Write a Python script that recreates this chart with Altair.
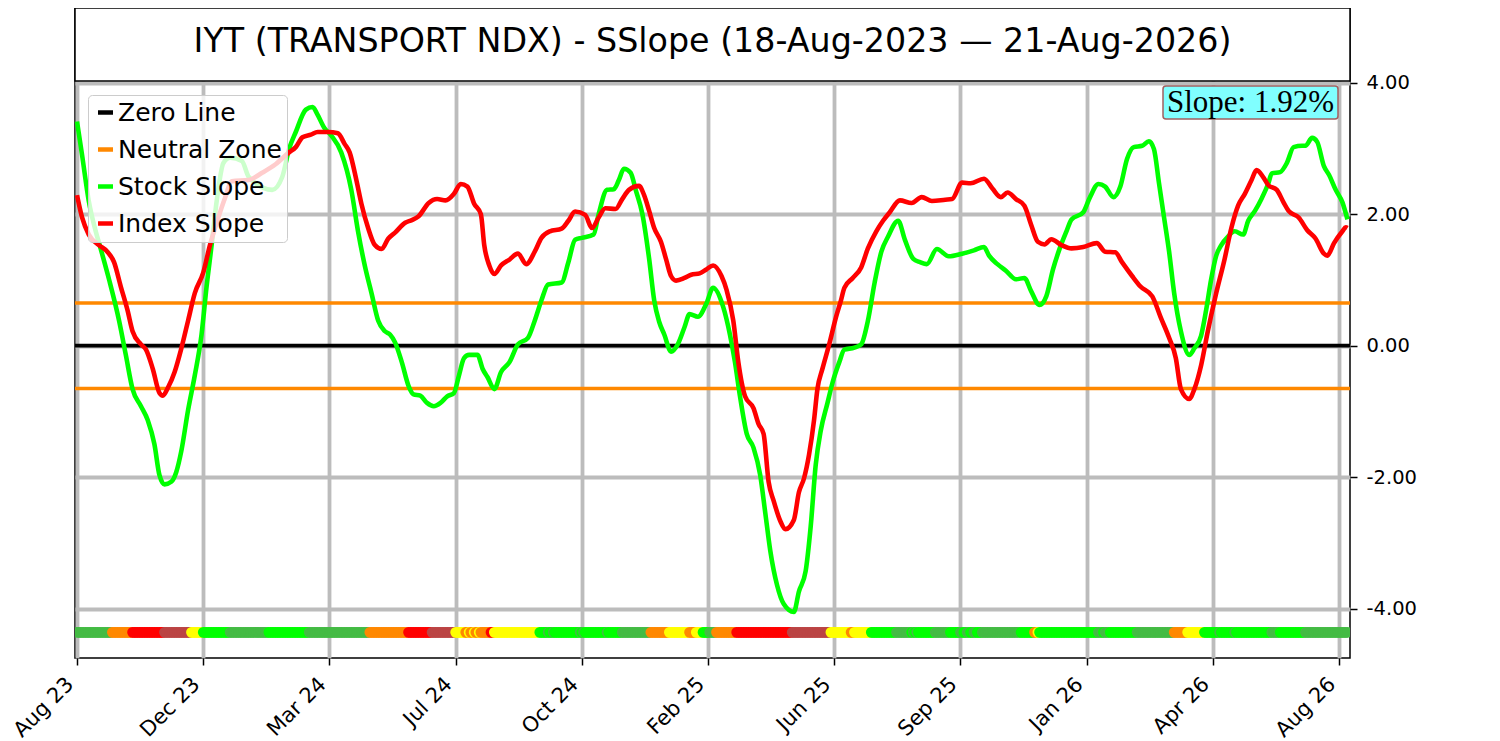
import altair as alt
import pandas as pd

TITLE = "IYT (TRANSPORT NDX) - SSlope (18-Aug-2023 — 21-Aug-2026)"
tick_idx = [0, 75, 150, 225, 300, 375, 450, 525, 600, 675, 750]
tick_labels = ["Aug 23", "Dec 23", "Mar 24", "Jul 24", "Oct 24", "Feb 25",
               "Jun 25", "Sep 25", "Jan 26", "Apr 26", "Aug 26"]
y_ticks = [-4, -2, 0, 2, 4]
neutral_levels = [0.65, -0.65]
band_level = -4.36
n_days = 756

stock_idx = [0, 3, 7, 11, 14, 19, 25, 29, 33, 38, 42, 46, 49, 52, 56, 59, 62, 66, 70, 74, 77, 80, 83, 87, 91,
             98, 102, 116, 122, 126, 130, 136, 140, 143, 147, 151, 157, 163, 167, 171, 175, 179, 183, 186, 189,
             193, 197, 200, 204, 208, 212, 216, 220, 224, 227, 230, 233, 238, 241, 244, 248, 252, 257, 262, 268,
             272, 276, 280, 288, 292, 296, 300, 307, 310, 315, 319, 322, 325, 329, 332, 336, 340, 343, 346, 349,
             353, 357, 361, 364, 369, 374, 378, 384, 388, 391, 394, 398, 402, 406, 409, 412, 416, 420, 426, 429,
             433, 436, 439, 442, 446, 449, 453, 456, 462, 466, 470, 474, 478, 482, 488, 492, 497, 501, 505, 511,
             518, 526, 533, 539, 542, 547, 552, 558, 563, 567, 572, 576, 580, 584, 588, 591, 598, 602, 607, 611,
             616, 620, 624, 628, 633, 637, 640, 643, 646, 649, 652, 656, 661, 664, 668, 671, 674, 677, 680, 684,
             688, 693, 696, 700, 704, 708, 710, 715, 719, 723, 728, 730, 734, 737, 741, 744, 748, 752, 755]
stock_val = [3.41, 2.90, 2.20, 1.75, 1.48, 1.01, 0.38, -0.14, -0.66, -0.92, -1.13, -1.50, -1.97, -2.11, -2.07,
             -1.92, -1.60, -0.98, -0.45, 0.17, 0.90, 1.53, 2.20, 2.78, 2.86,
             2.81, 2.57, 2.37, 2.57, 2.99, 3.25, 3.59, 3.63, 3.51, 3.31, 3.20, 2.94, 2.37, 1.74, 1.22, 0.80, 0.38,
             0.22, 0.17, 0.05,
             -0.25, -0.61, -0.74, -0.76, -0.87, -0.92, -0.87, -0.77, -0.72, -0.45, -0.19, -0.14, -0.14, -0.35,
             -0.48, -0.66, -0.40, -0.25, 0.02, 0.12,
             0.38, 0.69, 0.93, 0.96, 1.27, 1.61, 1.64, 1.69, 2.00, 2.37, 2.38, 2.52, 2.69, 2.63, 2.37, 2.00, 1.32,
             0.69, 0.36, 0.17,
             -0.09, 0.02, 0.28, 0.48, 0.44, 0.64, 0.88, 0.59, 0.17, -0.25, -0.77, -1.34, -1.55, -1.97, -2.54,
             -3.12, -3.64, -3.93, -4.05, -3.74,
             -3.43, -2.75, -1.81, -1.29, -0.87, -0.56, -0.25, -0.06, -0.03, 0.02, 0.38, 0.96, 1.43, 1.66, 1.90,
             1.61, 1.32, 1.27, 1.24, 1.47,
             1.36, 1.40, 1.45, 1.50, 1.37, 1.24, 1.14, 1.01, 1.03, 0.83, 0.62, 0.75, 1.16, 1.48, 1.74, 1.92, 2.03,
             2.26, 2.46, 2.42,
             2.26, 2.42, 2.84, 3.02, 3.04, 3.11, 2.99, 2.47, 1.95, 1.43, 0.80, 0.22, -0.14, -0.04, 0.15, 0.54,
             1.01, 1.37, 1.53, 1.66,
             1.74, 1.69, 1.90, 2.05, 2.24, 2.47, 2.62, 2.64, 2.78, 3.02, 3.04, 3.04, 3.16, 3.10, 2.73, 2.60, 2.37,
             2.18, 1.92]

index_idx = [0, 3, 7, 13, 18, 22, 26, 30, 33, 38, 41, 45, 49, 51, 54, 58, 62, 66, 70, 75, 79, 84, 88, 92, 102,
             110, 118, 126, 130, 134, 139, 143, 149, 155, 159, 162, 166, 169, 173, 177, 181, 185, 189, 195, 199,
             203, 209, 214, 219, 224, 228, 232, 236, 240, 242, 245, 248, 252, 257, 262, 267, 272, 276, 281, 288,
             292, 296, 302, 306, 310, 314, 320, 324, 328, 334, 337, 340, 343, 347, 350, 353, 356, 361, 365, 370,
             374, 378, 383, 386, 390, 393, 397, 402, 405, 408, 411, 414, 418, 421, 426, 429, 432, 435, 438, 440,
             443, 447, 451, 454, 456, 461, 466, 470, 475, 479, 483, 489, 496, 502, 508, 516, 520, 526, 531, 539,
             544, 549, 553, 558, 563, 567, 571, 575, 579, 585, 591, 598, 606, 611, 617, 621, 627, 632, 639, 644,
             649, 653, 656, 661, 664, 668, 672, 677, 682, 686, 690, 694, 698, 701, 705, 708, 713, 717, 720, 726,
             731, 736, 741, 743, 747, 752, 754, 755]
index_val = [2.29, 1.95, 1.69, 1.53, 1.43, 1.27, 0.90, 0.54, 0.22, 0.02, -0.06, -0.35, -0.72, -0.76, -0.64,
             -0.40, -0.04, 0.38, 0.80, 1.11, 1.53, 1.95, 2.25, 2.50, 2.52,
             2.63, 2.76, 2.94, 3.02, 3.17, 3.21, 3.25, 3.25, 3.23, 3.07, 2.94, 2.52, 2.16, 1.79, 1.53, 1.47, 1.63,
             1.72, 1.87, 1.91,
             1.97, 2.17, 2.23, 2.21, 2.31, 2.46, 2.42, 2.16, 2.00, 1.53, 1.22, 1.09, 1.22, 1.31, 1.40, 1.24, 1.43,
             1.64, 1.74, 1.78,
             1.90, 2.04, 1.99, 1.79, 1.95, 2.09, 2.08, 2.23, 2.37, 2.43, 2.29, 2.05, 1.79, 1.58, 1.32, 1.06, 0.99,
             1.03, 1.08, 1.10,
             1.16, 1.22, 1.06, 0.85, 0.38, -0.25, -0.77, -0.95, -1.19, -1.34, -2.07, -2.36, -2.67, -2.79, -2.65,
             -2.23, -2.02, -1.66, -1.13, -0.66,
             -0.35, 0.02, 0.43, 0.69, 0.88, 1.03, 1.19, 1.48, 1.74, 1.90, 2.03, 2.21, 2.17, 2.26, 2.20, 2.22, 2.23,
             2.48, 2.47, 2.54,
             2.39, 2.26, 2.33, 2.23, 2.13, 1.84, 1.58, 1.54, 1.62, 1.53, 1.48, 1.50, 1.56, 1.43, 1.42, 1.27, 1.06,
             0.90, 0.75, 0.43,
             0.12, -0.19, -0.66, -0.81, -0.66, -0.30, 0.22, 0.80, 1.32, 1.79, 2.13, 2.31, 2.52, 2.67, 2.56, 2.44,
             2.37, 2.18, 2.05, 1.95,
             1.76, 1.63, 1.40, 1.37, 1.56, 1.74, 1.80, 1.79]

# bottom status band: runs of (start day, colour code)
run_start = [0, 21, 33, 52, 68, 75, 91, 114, 138, 174, 197, 211, 225, 231, 233, 234, 236, 237, 239, 240, 246,
             248, 275, 280, 281, 283, 284, 299, 300, 301, 302, 315, 316, 324, 341, 352, 364, 368, 372, 376, 380,
             392, 425, 448, 460, 462, 472, 487, 496, 497, 498, 499, 500, 510, 519, 525, 527, 529, 531, 533, 535,
             538, 561, 569, 571, 572, 607, 610, 611, 614, 630, 652, 660, 670, 679, 680, 688, 689, 710, 715, 730]
run_code = ["G", "O", "R", "B", "Y", "L", "G", "L", "G", "O", "R", "B", "Y", "O", "Y", "O", "Y", "O", "Y", "O", "R",
            "Y", "L", "G", "L", "G", "L", "G", "L", "G", "L", "G", "L", "G", "O", "Y", "O", "Y", "L", "G", "O",
            "R", "B", "Y", "O", "Y", "L", "G", "L", "G", "L", "G", "L", "G", "L", "G", "L", "G", "L", "G", "L",
            "G", "L", "O", "Y", "L", "G", "L", "G", "L", "G", "O", "Y", "L", "G", "L", "G", "L", "G", "L", "G"]
code_colors = {"G": "#44bb44", "L": "#00ff00", "Y": "#ffff00", "O": "#ff8800", "R": "#ff0000", "B": "#bb4444"}

legend_names = ["Zero Line", "Neutral Zone", "Stock Slope", "Index Slope"]
legend_colors = ["#000000", "#ff8800", "#00ff00", "#ff0000"]

# ---------------------------------------------------------------- build
W, H = 1275, 650
TITLE_H = 73

band_i, band_c = [], []
for k, s in enumerate(run_start):
    e = run_start[k + 1] if k + 1 < len(run_start) else n_days
    for i in range(s, e):
        band_i.append(i)
        band_c.append(code_colors[run_code[k]])
band_df = pd.DataFrame({"i": band_i, "v": [band_level] * len(band_i), "c": band_c})

stock_df = pd.DataFrame({"i": stock_idx, "v": stock_val, "name": "Stock Slope"})
index_df = pd.DataFrame({"i": index_idx, "v": index_val, "name": "Index Slope"})
zero_df = pd.DataFrame({"v": [0.0], "name": ["Zero Line"]})
neutral_df = pd.DataFrame({"v": neutral_levels, "name": ["Neutral Zone"] * len(neutral_levels)})

label_expr = "[" + ",".join("'%s'" % t for t in tick_labels) + "][round(datum.value / 75)]"
ylabel_expr = "(datum.value < 0 ? '-' : '') + format(abs(datum.value), '.2f')"

x_scale = alt.Scale(domain=[-1.2, 756.5], nice=False, zero=False)
y_scale = alt.Scale(domain=[-4.75, 5.136], nice=False, zero=False)

GRID = "#bcbcbc"
x_axis = alt.Axis(values=tick_idx, labelExpr=label_expr, title=None, grid=True, gridColor=GRID,
                  gridWidth=3.8, domain=False, ticks=True, tickColor="black", tickWidth=1.5, tickSize=7,
                  labelAngle=315, labelAlign="right", labelBaseline="bottom", labelFont="DejaVu Sans",
                  labelFontSize=21, labelColor="black", labelPadding=23,
                  labelOverlap=False, labelFlush=False)
y_axis = alt.Axis(orient="right", values=y_ticks, labelExpr=ylabel_expr, title=None, grid=True, gridColor=GRID,
                  gridWidth=3.8, domain=False, ticks=True, tickColor="black", tickWidth=1.5, tickSize=7,
                  labelFont="DejaVu Sans", labelFontSize=19.5, labelColor="black", labelPadding=9)

color_scale = alt.Scale(domain=legend_names, range=legend_colors)
legend = alt.Legend(orient="none", legendX=13, legendY=87, title=None, symbolType="stroke",
                    symbolStrokeWidth=4.5, symbolSize=225, symbolOffset=0, labelFont="DejaVu Sans",
                    labelFontSize=25, labelColor="black", labelLimit=400, labelOffset=0, padding=5,
                    rowPadding=11, strokeColor="#cccccc", fillColor="rgba(255,255,255,0.8)", cornerRadius=4)
color_enc = alt.Color("name:N", scale=color_scale, legend=legend)

X = alt.X("i:Q", scale=x_scale, axis=x_axis)
Y = alt.Y("v:Q", scale=y_scale, axis=y_axis)

title_box = alt.Chart(pd.DataFrame({"t": [TITLE]})).mark_rect(
    fill="white", stroke="black", strokeWidth=1.5).encode(
    x=alt.value(0), x2=alt.value(W), y=alt.value(0), y2=alt.value(TITLE_H))
title_text = alt.Chart(pd.DataFrame({"t": [TITLE]})).mark_text(
    font="DejaVu Sans", fontSize=33.3, color="black", align="center", baseline="middle").encode(
    x=alt.value(W / 2), y=alt.value(34), text="t:N")

neutral = alt.Chart(neutral_df).mark_rule(strokeWidth=3.6).encode(y=Y, color=color_enc)
zero = alt.Chart(zero_df).mark_rule(strokeWidth=3.8).encode(y=Y, color=color_enc)
stock = alt.Chart(stock_df).mark_line(strokeWidth=4.6, interpolate="monotone").encode(x=X, y=Y, color=color_enc)
index = alt.Chart(index_df).mark_line(strokeWidth=4.6, interpolate="monotone").encode(x=X, y=Y, color=color_enc)
band = alt.Chart(band_df).mark_circle(size=115, opacity=1, clip=True).encode(
    x=X, y=Y, color=alt.Color("c:N", scale=None))

slope_text = "Slope: %.2f%%" % stock_val[-1]
slope_box = alt.Chart(pd.DataFrame({"t": [slope_text]})).mark_rect(
    fill="#80ffff", stroke="#a06060", strokeWidth=1.5, cornerRadius=3).encode(
    x=alt.value(1088), x2=alt.value(1263), y=alt.value(78), y2=alt.value(111))
slope_lbl = alt.Chart(pd.DataFrame({"t": [slope_text]})).mark_text(
    font="Liberation Serif", fontSize=31, color="black", align="center", baseline="middle").encode(
    x=alt.value(1175.5), y=alt.value(95), text="t:N")

chart = alt.layer(
    title_box, title_text, neutral, zero, stock, index, band, slope_box, slope_lbl
).properties(
    width=W, height=H,
    autosize=alt.AutoSizeParams(type="none"),
    padding={"left": 67, "top": 0, "right": 110, "bottom": 83},
).configure_view(stroke="black", strokeWidth=1.5)

chart.save("out.html", embed_options={"renderer": "svg", "actions": False})
